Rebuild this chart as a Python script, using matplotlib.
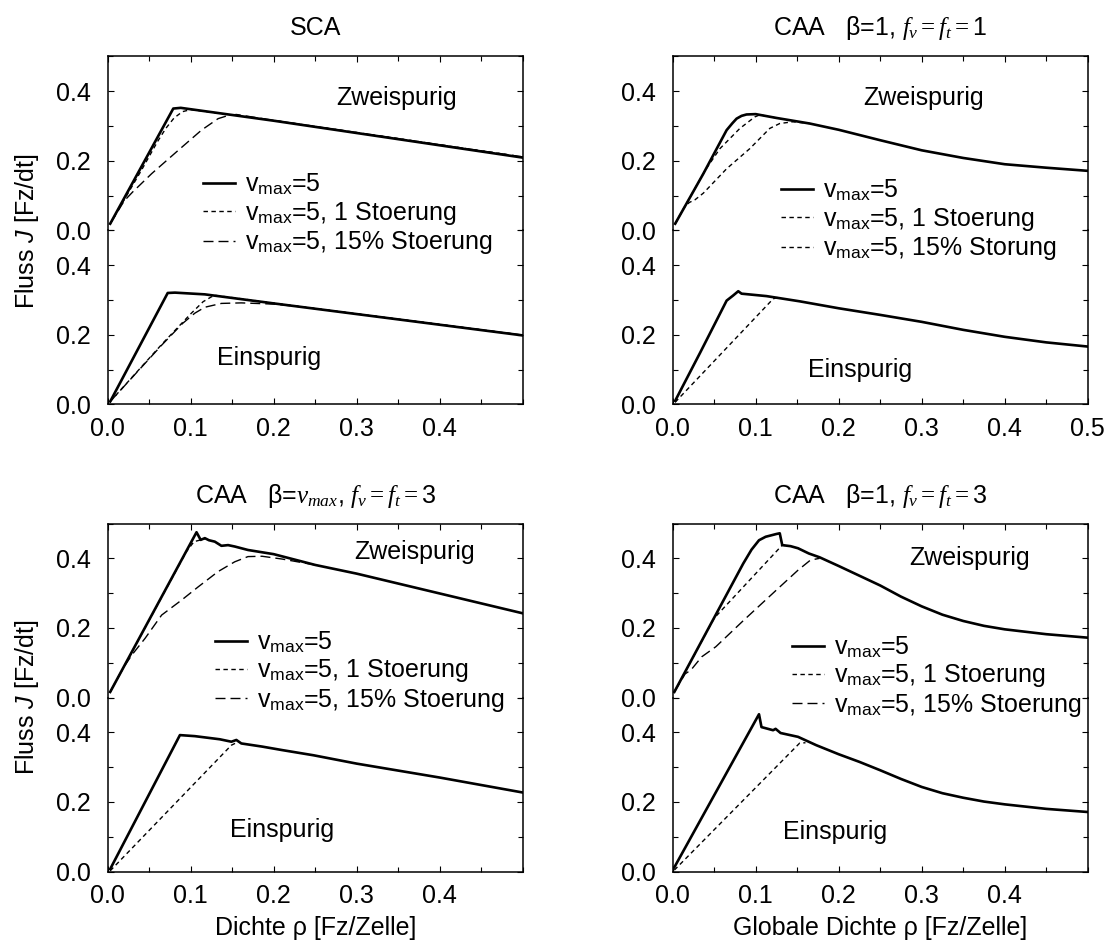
import matplotlib
matplotlib.use("Agg")
import matplotlib.pyplot as plt
from matplotlib.ticker import MultipleLocator, FormatStrFormatter

plt.rcParams['font.family'] = ['Liberation Sans', 'DejaVu Sans']
plt.rcParams['mathtext.fontset'] = 'custom'
plt.rcParams['mathtext.rm'] = 'Liberation Serif'
plt.rcParams['mathtext.it'] = 'Liberation Serif:italic'
plt.rcParams['mathtext.bf'] = 'Liberation Serif:bold'
plt.rcParams['mathtext.sf'] = 'Liberation Sans:italic'

FS = 18

# ---------------- SCA ----------------
sca2_free_x = [0.003, 0.079, 0.088, 0.2, 0.5]
sca2_free_y = [0.019, 0.350, 0.352, 0.315, 0.209]
sca2_one_x = [0.003, 0.04, 0.06, 0.07, 0.08, 0.09, 0.1, 0.2, 0.5]
sca2_one_y = [0.019, 0.17, 0.255, 0.293, 0.323, 0.341, 0.347, 0.316, 0.211]
sca2_pct_x = [0.003, 0.02, 0.03, 0.053, 0.085, 0.113, 0.133, 0.145, 0.155, 0.2, 0.5]
sca2_pct_y = [0.019, 0.085, 0.11, 0.163, 0.230, 0.288, 0.321, 0.330, 0.333, 0.316, 0.211]

sca1_free_x = [0.003, 0.0723, 0.081, 0.117, 0.2, 0.5]
sca1_free_y = [0.008, 0.320, 0.321, 0.316, 0.29, 0.198]
sca1_one_x = [0.003, 0.065, 0.1, 0.115, 0.125, 0.13, 0.2, 0.5]
sca1_one_y = [0.008, 0.172, 0.26, 0.295, 0.309, 0.313, 0.291, 0.199]
sca1_pct_x = [0.003, 0.065, 0.09, 0.105, 0.117, 0.137, 0.161, 0.2, 0.23, 0.5]
sca1_pct_y = [0.008, 0.17, 0.232, 0.262, 0.279, 0.29, 0.2915, 0.288, 0.281, 0.199]

# ---------------- CAA beta=1, fv=ft=1 ----------------
caa11_2_free_x = [0.003, 0.037, 0.065, 0.072, 0.077, 0.083, 0.089, 0.1, 0.125, 0.165,
                  0.2, 0.25, 0.3, 0.35, 0.4, 0.45, 0.5]
caa11_2_free_y = [0.019, 0.163, 0.288, 0.308, 0.321, 0.329, 0.333, 0.334, 0.323, 0.307,
                  0.289, 0.259, 0.230, 0.208, 0.190, 0.180, 0.171]
caa11_2_one_x = [0.003, 0.039, 0.057, 0.081, 0.099, 0.105, 0.125]
caa11_2_one_y = [0.019, 0.172, 0.235, 0.293, 0.326, 0.332, 0.323]
caa11_2_pct_x = [0.003, 0.014, 0.02, 0.027, 0.037, 0.065, 0.093, 0.117, 0.129, 0.145, 0.165]
caa11_2_pct_y = [0.019, 0.066, 0.080, 0.088, 0.107, 0.177, 0.235, 0.293, 0.307, 0.312, 0.307]

caa11_1_free_x = [0.003, 0.033, 0.065, 0.073, 0.079, 0.083, 0.113, 0.153, 0.2, 0.25,
                  0.3, 0.35, 0.4, 0.45, 0.5]
caa11_1_free_y = [0.01, 0.148, 0.298, 0.313, 0.325, 0.318, 0.311, 0.296, 0.276, 0.257,
                  0.237, 0.214, 0.194, 0.178, 0.166]
caa11_1_one_x = [0.003, 0.121, 0.127]
caa11_1_one_y = [0.006, 0.303, 0.308]

# ---------------- CAA beta=vmax, fv=ft=3 ----------------
caav3_2_free_x = [0.003, 0.107, 0.112, 0.117, 0.122, 0.129, 0.137, 0.145, 0.153, 0.169,
                  0.2, 0.25, 0.3, 0.4, 0.5]
caav3_2_free_y = [0.016, 0.475, 0.453, 0.458, 0.452, 0.448, 0.436, 0.438, 0.434, 0.424,
                  0.412, 0.381, 0.356, 0.299, 0.242]
caav3_2_one_x = [0.003, 0.095, 0.104, 0.117]
caav3_2_one_y = [0.016, 0.42, 0.448, 0.456]
caav3_2_pct_x = [0.003, 0.02, 0.03, 0.045, 0.065, 0.089, 0.109, 0.133, 0.153, 0.169,
                 0.186, 0.21, 0.25]
caav3_2_pct_y = [0.016, 0.09, 0.125, 0.17, 0.237, 0.28, 0.318, 0.362, 0.39, 0.405,
                 0.406, 0.398, 0.381]

caav3_1_free_x = [0.003, 0.087, 0.105, 0.125, 0.135, 0.149, 0.155, 0.161, 0.186, 0.21,
                  0.248, 0.3, 0.4, 0.5]
caav3_1_free_y = [0.007, 0.392, 0.389, 0.383, 0.38, 0.373, 0.378, 0.368, 0.359, 0.349,
                  0.334, 0.31, 0.27, 0.227]
caav3_1_one_x = [0.003, 0.149, 0.155]
caav3_1_one_y = [0.002, 0.363, 0.37]

# ---------------- CAA beta=1, fv=ft=3 ----------------
caa13_2_free_x = [0.002, 0.085, 0.095, 0.104, 0.112, 0.125, 0.129, 0.132, 0.142, 0.151,
                  0.164, 0.177, 0.2, 0.225, 0.25, 0.275, 0.3, 0.325, 0.35, 0.375,
                  0.4, 0.45, 0.5]
caa13_2_free_y = [0.016, 0.385, 0.425, 0.452, 0.462, 0.47, 0.472, 0.438, 0.435, 0.429,
                  0.414, 0.403, 0.378, 0.35, 0.322, 0.29, 0.262, 0.238, 0.22, 0.206,
                  0.196, 0.182, 0.172]
caa13_2_one_x = [0.002, 0.05, 0.132, 0.142]
caa13_2_one_y = [0.016, 0.228, 0.438, 0.435]
caa13_2_pct_x = [0.002, 0.015, 0.022, 0.035, 0.052, 0.086, 0.125, 0.151, 0.166, 0.177]
caa13_2_pct_y = [0.016, 0.068, 0.079, 0.117, 0.146, 0.223, 0.309, 0.366, 0.395, 0.400]

caa13_1_free_x = [0.002, 0.104, 0.107, 0.121, 0.124, 0.13, 0.151, 0.173, 0.2, 0.225,
                  0.25, 0.275, 0.3, 0.325, 0.35, 0.375, 0.4, 0.45, 0.5]
caa13_1_free_y = [0.012, 0.452, 0.415, 0.406, 0.41, 0.398, 0.387, 0.363, 0.337, 0.315,
                  0.291, 0.266, 0.243, 0.225, 0.212, 0.201, 0.193, 0.18, 0.171]
caa13_1_one_x = [0.002, 0.153, 0.16]
caa13_1_one_y = [0.004, 0.369, 0.37]

lab_free = r'v$_\mathregular{max}$=5'
lab_one = r'v$_\mathregular{max}$=5, 1 Stoerung'
lab_pct = r'v$_\mathregular{max}$=5, 15% Stoerung'
lab_pct_tr = r'v$_\mathregular{max}$=5, 15% Storung'

SHORT = (0, (3.2, 2.5))
LONG = (0, (7.2, 3.6))

W, H = 1108, 944
fig = plt.figure(figsize=(W / 100, H / 100), dpi=100)


def style(ax, upper, xlabels):
    ax.patch.set_visible(False)
    ax.set_xlim(0, 0.5)
    ax.set_ylim(0, 0.5)
    for s in ax.spines.values():
        s.set_linewidth(1.1)
    if upper:
        ax.spines['bottom'].set_visible(False)
    else:
        ax.spines['top'].set_visible(False)
    ax.set_yticks([0.0, 0.2, 0.4])
    ax.yaxis.set_minor_locator(MultipleLocator(0.1))
    ax.yaxis.set_major_formatter(FormatStrFormatter('%.1f'))
    ax.set_xticks(xlabels)
    ax.xaxis.set_minor_locator(MultipleLocator(0.05))
    ax.xaxis.set_major_formatter(FormatStrFormatter('%.1f'))
    ax.tick_params(which='both', direction='in', right=True, labelsize=FS,
                   width=0.8)
    ax.tick_params(which='major', length=4)
    ax.tick_params(which='minor', length=3.5)
    ax.tick_params(axis='y', pad=12)
    ax.tick_params(axis='x', pad=9)
    if upper:
        ax.tick_params(axis='x', which='both', top=True, bottom=False,
                       labelbottom=False)
    else:
        ax.tick_params(axis='x', which='both', top=False, bottom=True)


def panel(left, bottom, upper_series, lower_series, xticks, legend_xy,
          two_xy, one_xy, title, title_y, xlabel=None):
    h = 0.1843
    w = 0.3746
    ax_lo = fig.add_axes([left, bottom, w, h])
    ax_up = fig.add_axes([left, bottom + h, w, h])
    style(ax_lo, False, xticks)
    style(ax_up, True, xticks)
    for ax, series in ((ax_up, upper_series), (ax_lo, lower_series)):
        for x, y, ls, lab in series:
            lw = 1.9 if ls == '-' else 1.0
            ax.plot(x, y, color='black', linestyle=ls, linewidth=lw, label=lab)
    ax_up.text(two_xy[0], two_xy[1], 'Zweispurig', fontsize=FS,
               ha='left', va='center')
    ax_lo.text(one_xy[0], one_xy[1], 'Einspurig', fontsize=FS,
               ha='left', va='center')
    ax_up.legend(loc='center left', bbox_to_anchor=legend_xy,
                 bbox_transform=fig.transFigure, frameon=False, fontsize=FS,
                 handlelength=1.28, handletextpad=0.4, labelspacing=0.1,
                 borderpad=0, borderaxespad=0)
    fig.text(left + w / 2, title_y, title, fontsize=FS, ha='center', va='center')
    if xlabel:
        fig.text(left + w / 2, 0.017, xlabel, fontsize=FS, ha='center', va='center')
    return ax_up, ax_lo


LX, RX = 0.0972, 0.6071
TOP_B, BOT_B = 0.5717, 0.0768
ticks4 = [0.0, 0.1, 0.2, 0.3, 0.4]
ticks5 = [0.0, 0.1, 0.2, 0.3, 0.4, 0.5]

panel(LX, TOP_B,
      [(sca2_free_x, sca2_free_y, '-', lab_free),
       (sca2_one_x, sca2_one_y, SHORT, lab_one),
       (sca2_pct_x, sca2_pct_y, LONG, lab_pct)],
      [(sca1_free_x, sca1_free_y, '-', None),
       (sca1_one_x, sca1_one_y, SHORT, None),
       (sca1_pct_x, sca1_pct_y, LONG, None)],
      ticks4, (0.183, 0.7733), (0.275, 0.379), (0.132, 0.133),
      'SCA', 0.9703)

panel(RX, TOP_B,
      [(caa11_2_free_x, caa11_2_free_y, '-', lab_free),
       (caa11_2_one_x, caa11_2_one_y, SHORT, lab_one),
       (caa11_2_pct_x, caa11_2_pct_y, SHORT, lab_pct_tr)],
      [(caa11_1_free_x, caa11_1_free_y, '-', None),
       (caa11_1_one_x, caa11_1_one_y, SHORT, None)],
      ticks5, (0.7045, 0.7669), (0.230, 0.379), (0.163, 0.099),
      r'CAA   β=1, $f_v{=}f_t{=}$1', 0.9703)

panel(LX, BOT_B,
      [(caav3_2_free_x, caav3_2_free_y, '-', lab_free),
       (caav3_2_one_x, caav3_2_one_y, SHORT, lab_one),
       (caav3_2_pct_x, caav3_2_pct_y, LONG, lab_pct)],
      [(caav3_1_free_x, caav3_1_free_y, '-', None),
       (caav3_1_one_x, caav3_1_one_y, SHORT, None)],
      ticks4, (0.1937, 0.2885), (0.297, 0.418), (0.147, 0.119),
      r'CAA   β=$v_{max}$, $f_v{=}f_t{=}$3', 0.4746,
      xlabel='Dichte ρ [Fz/Zelle]')

panel(RX, BOT_B,
      [(caa13_2_free_x, caa13_2_free_y, '-', lab_free),
       (caa13_2_one_x, caa13_2_one_y, SHORT, lab_one),
       (caa13_2_pct_x, caa13_2_pct_y, LONG, lab_pct)],
      [(caa13_1_free_x, caa13_1_free_y, '-', None),
       (caa13_1_one_x, caa13_1_one_y, SHORT, None)],
      ticks4, (0.7148, 0.2832), (0.285, 0.401), (0.133, 0.114),
      r'CAA   β=1, $f_v{=}f_t{=}$3', 0.4746,
      xlabel='Globale Dichte ρ [Fz/Zelle]')

for yc in (0.7552, 0.2611):
    fig.text(27 / W, yc, r'Fluss $\mathsf{J}$ [Fz/dt]', fontsize=FS,
             rotation=90, ha='center', va='center')

fig.savefig('out.png', dpi=100)
